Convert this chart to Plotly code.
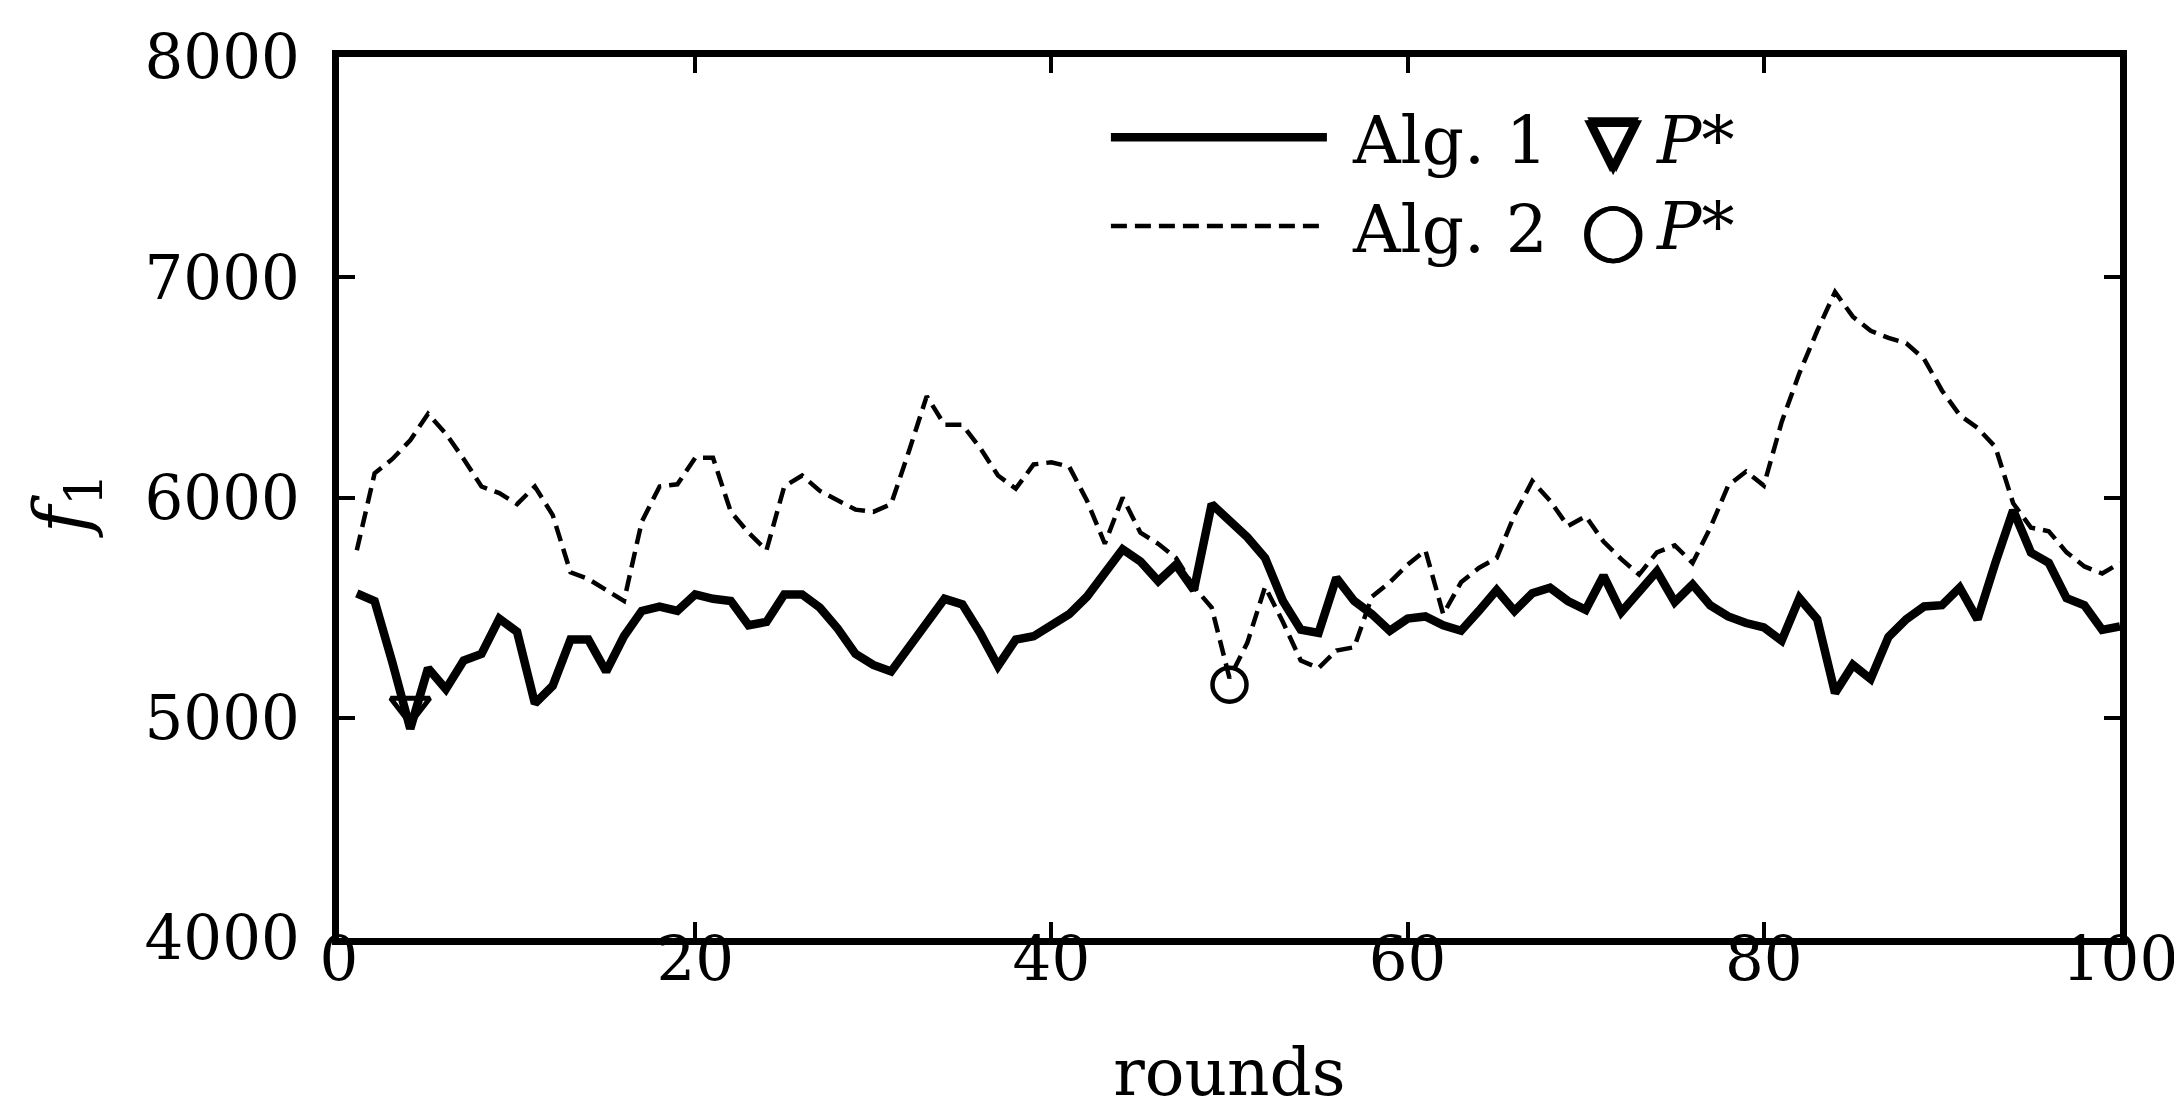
import plotly.graph_objects as go

rounds = list(range(1, 101))

alg1 = [5565, 5530, 5250, 4950, 5225, 5130, 5260, 5290, 5450, 5390,
        5065, 5145, 5355, 5355, 5210, 5370, 5485, 5505, 5485, 5560,
        5540, 5530, 5420, 5435, 5560, 5560, 5500, 5405, 5290, 5240,
        5210, 5320, 5420, 5540, 5515, 5385, 5235, 5355, 5370, 5420,
        5470, 5550, 5660, 5765, 5710, 5620, 5695, 5580, 5970, 5900,
        5820, 5725, 5530, 5400, 5385, 5635, 5530, 5470, 5395, 5450,
        5460, 5420, 5395, 5485, 5580, 5485, 5565, 5590, 5530, 5490,
        5645, 5480, 5570, 5665, 5525, 5605, 5510, 5460, 5430, 5410,
        5350, 5543, 5447, 5112, 5240, 5176, 5367, 5447, 5505, 5511,
        5591, 5447, 5703, 5942, 5750, 5703, 5543, 5511, 5399, 5415]

alg2 = [5760, 6110, 6175, 6260, 6380, 6290, 6175, 6050, 6020, 5970,
        6050, 5920, 5660, 5630, 5580, 5530, 5890, 6050, 6060, 6180,
        6180, 5935, 5840, 5760, 6050, 6100, 6030, 5985, 5945, 5935,
        5970, 6210, 6460, 6330, 6330, 6225, 6100, 6040, 6150, 6160,
        6140, 5985, 5790, 6000, 5840, 5790, 5725, 5595, 5500, 5180,
        5340, 5595, 5435, 5260, 5225, 5305, 5320, 5550, 5615, 5695,
        5760, 5470, 5615, 5680, 5725, 5920, 6075, 5985, 5870, 5915,
        5800, 5720, 5650, 5751, 5783, 5703, 5863, 6054, 6118, 6054,
        6342, 6565, 6757, 6933, 6821, 6757, 6725, 6700, 6629, 6486,
        6374, 6316, 6230, 5974, 5863, 5847, 5751, 5687, 5655, 5703]

best1_round = [4]
best1_value = [5050]
best2_round = [50]
best2_value = [5150]

x_ticks = [0, 20, 40, 60, 80, 100]
y_ticks = [4000, 5000, 6000, 7000, 8000]

FONT = "DejaVu Serif"
NB = "\u00a0"

fig = go.Figure()
fig.add_trace(go.Scatter(
    x=rounds, y=alg1, mode="lines", name=NB + "Alg. 1", legendgroup="a",
    line=dict(color="black", width=8.5)))
fig.add_trace(go.Scatter(
    x=rounds, y=alg2, mode="lines", name=NB + "Alg. 2", legendgroup="b",
    line=dict(color="black", width=4.5, dash="16px,8px")))
fig.add_trace(go.Scatter(
    x=best1_round, y=best1_value, mode="markers", showlegend=False,
    marker=dict(symbol="triangle-down-open", size=34, color="black",
                line=dict(color="black", width=5))))
fig.add_trace(go.Scatter(
    x=best2_round, y=best2_value, mode="markers", showlegend=False,
    marker=dict(symbol="circle-open", size=34, color="black",
                line=dict(color="black", width=4.5))))

axis_common = dict(
    showline=True, linecolor="black", linewidth=7, mirror="ticks",
    ticks="inside", ticklen=16, tickwidth=3.5, tickcolor="black",
    showgrid=False, zeroline=False,
    tickfont=dict(family=FONT, size=61, color="black"),
)

fig.update_xaxes(range=[0, 100], tickvals=x_ticks, ticklabelstandoff=-38,
                 ticklabeloverflow="allow",
                 title=dict(text="rounds", font=dict(family=FONT, size=66, color="black"), standoff=58),
                 **axis_common)
fig.update_yaxes(range=[4000, 8000], tickvals=y_ticks, ticklabelstandoff=20,
                 ticklabeloverflow="allow",
                 **axis_common)

fig.update_layout(
    width=2182, height=1112,
    margin=dict(l=331, r=57, t=49, b=182),
    paper_bgcolor="white", plot_bgcolor="white",
    showlegend=True,
    legend=dict(x=0.4306, y=0.965, xanchor="left", yanchor="top",
                itemwidth=216, tracegroupgap=0,
                font=dict(family=FONT, size=66, color="black"),
                bgcolor="rgba(0,0,0,0)", borderwidth=0),
    annotations=[
        dict(xref="paper", yref="paper", x=0, y=0.49, xshift=-273,
             xanchor="center", yanchor="middle", textangle=-90,
             text="<i>f</i><sub>1</sub>", showarrow=False,
             font=dict(family=FONT, size=74, color="black")),
        dict(xref="paper", yref="paper", x=0.7155, y=0.905, xanchor="center", yanchor="middle",
             text="▽", showarrow=False,
             font=dict(family="DejaVu Sans", size=68, color="black",
                       shadow="3px 0 0 black, -3px 0 0 black, 0 3px 0 black, 0 -3px 0 black")),
        dict(xref="paper", yref="paper", x=0.7386, y=0.905, xanchor="left", yanchor="middle",
             text="<i>P</i>*", showarrow=False,
             font=dict(family=FONT, size=66, color="black")),
        dict(xref="paper", yref="paper", x=0.7155, y=0.806, xanchor="center", yanchor="middle",
             text="○", showarrow=False,
             font=dict(family="DejaVu Sans", size=74, color="black",
                       shadow="1px 0 0 black, -1px 0 0 black")),
        dict(xref="paper", yref="paper", x=0.7386, y=0.808, xanchor="left", yanchor="middle",
             text="<i>P</i>*", showarrow=False,
             font=dict(family=FONT, size=66, color="black")),
    ],
)

fig.write_html("out.html")
